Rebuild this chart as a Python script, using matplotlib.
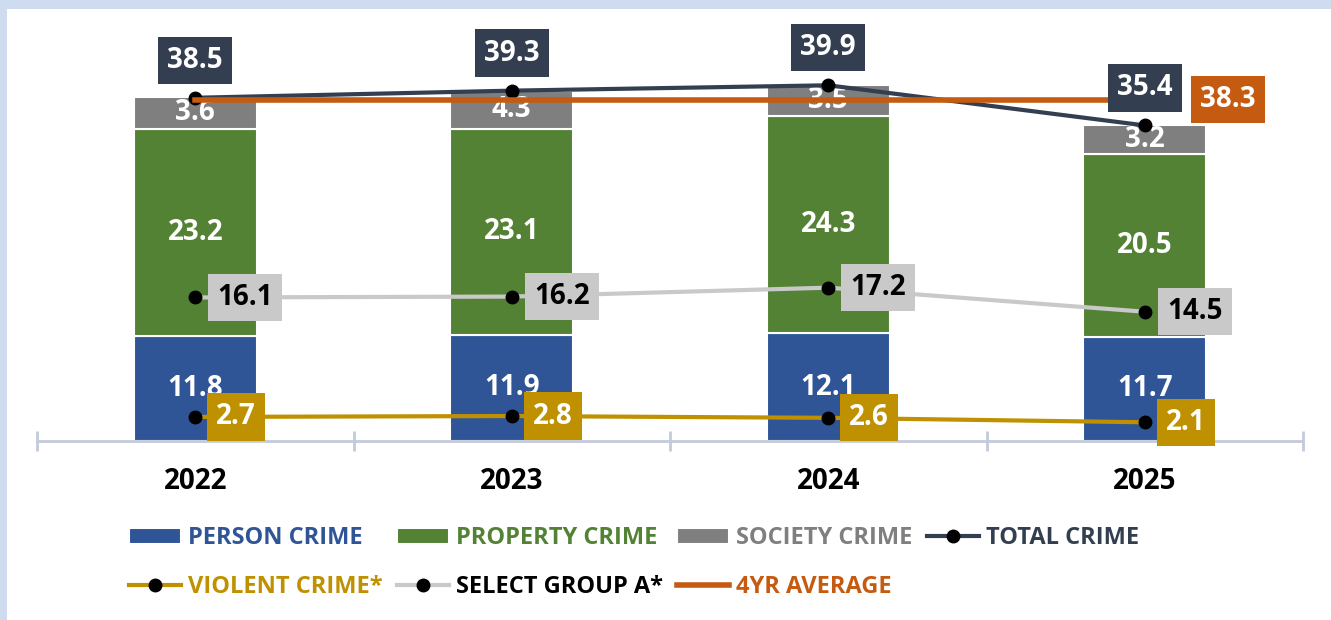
import numpy as np
import matplotlib
matplotlib.use('Agg')
import matplotlib.pyplot as plt
from matplotlib.patches import Rectangle

plt.rcParams['font.family'] = ['Open Sans', 'DejaVu Sans']
plt.rcParams['font.weight'] = 'bold'

years = ['2022', '2023', '2024', '2025']
person = [11.8, 11.9, 12.1, 11.7]
property_crime = [23.2, 23.1, 24.3, 20.5]
society = [3.6, 4.3, 3.5, 3.2]
total = [38.5, 39.3, 39.9, 35.4]
violent = [2.7, 2.8, 2.6, 2.1]
select_a = [16.1, 16.2, 17.2, 14.5]
avg_4yr = 38.3

c_person = '#2f5597'
c_prop = '#548235'
c_soc = '#7f7f7f'
c_total = '#333f50'
c_violent = '#bf9000'
c_select = '#c9c9c9'
c_avg = '#c55a11'

W, H = 1331, 620
fig = plt.figure(figsize=(W / 100, H / 100), dpi=100)
fig.patch.set_facecolor('#cfdcf0')
fig.add_artist(Rectangle((7 / W, 0), 1, (H - 9) / H, transform=fig.transFigure,
                         facecolor='white', edgecolor='none', zorder=-5))

ax = fig.add_axes([37 / W, 179 / H, 1266 / W, 419 / H])
ax.set_facecolor('none')

x = np.arange(len(years))
bw = 0.39
b1 = ax.bar(x, person, bw, color=c_person, edgecolor='white', linewidth=1.5, zorder=2, label='PERSON CRIME')
b2 = ax.bar(x, property_crime, bw, bottom=person, color=c_prop, edgecolor='white', linewidth=1.5,
            zorder=2, label='PROPERTY CRIME')
bottom2 = [a + b for a, b in zip(person, property_crime)]
b3 = ax.bar(x, society, bw, bottom=bottom2, color=c_soc, edgecolor='white', linewidth=1.5,
            zorder=2, label='SOCIETY CRIME')
for bars in (b1, b2, b3):
    ax.bar_label(bars, fmt='%.1f', label_type='center', color='white', fontsize=20,
                 fontweight='bold', zorder=3)

mk = dict(marker='o', ms=9, mfc='black', mec='black')
l_total, = ax.plot(x, total, color=c_total, lw=3, zorder=4, label='TOTAL CRIME', **mk)
l_select, = ax.plot(x, select_a, color=c_select, lw=3, zorder=4, label='SELECT GROUP A*', **mk)
l_violent, = ax.plot(x, violent, color=c_violent, lw=3, zorder=4, label='VIOLENT CRIME*', **mk)
l_avg, = ax.plot(x, [avg_4yr] * len(x), color=c_avg, lw=4, zorder=5, label='4YR AVERAGE')


def box_label(xi, yi, txt, dx, dy, fc, tc):
    ax.annotate(txt, (xi, yi), xytext=(dx, dy), textcoords='offset points',
                ha='center', va='center', color=tc, fontsize=20, fontweight='bold',
                bbox=dict(boxstyle='square,pad=0.33', fc=fc, ec='none'), zorder=6)


for i in range(len(x)):
    box_label(x[i], total[i], f'{total[i]:.1f}', 0, 27, c_total, 'white')
    box_label(x[i], select_a[i], f'{select_a[i]:.1f}', 36, 0, c_select, 'black')
    box_label(x[i], violent[i], f'{violent[i]:.1f}', 29.5, 0, c_violent, 'white')
box_label(x[-1], avg_4yr, f'{avg_4yr:.1f}', 60, 0, c_avg, 'white')

ax.set_xlim(-0.5, 3.5)
ax.set_ylim(0, 47)
ax.set_yticks([])
for s in ('left', 'right', 'top'):
    ax.spines[s].set_visible(False)
ax.spines['bottom'].set_color('#c3cad9')
ax.spines['bottom'].set_linewidth(2)
ax.set_xticks(x)
ax.set_xticklabels(years, fontsize=20, fontweight='bold')
ax.set_xticks(np.arange(-0.5, 4, 1), minor=True)
ax.tick_params(axis='x', which='major', length=0, pad=19)
ax.tick_params(axis='x', which='minor', direction='inout', length=14, width=2, color='#c3cad9')

handles = [b1, l_violent, b2, l_select, b3, l_avg, l_total]
labels = [h.get_label() for h in handles]
leg = fig.legend(handles, labels, loc='upper left', bbox_to_anchor=(108 / W, 1 - 505 / H), ncol=4,
                 frameon=False, prop=dict(family='Open Sans', weight='bold', size=17),
                 handlelength=2.2, handletextpad=0.3, columnspacing=0.6, labelspacing=1.05)
for t, c in zip(leg.get_texts(), [c_person, c_violent, c_prop, 'black', c_soc, c_avg, c_total]):
    t.set_color(c)

fig.savefig('out.png', dpi=100, facecolor=fig.get_facecolor())
